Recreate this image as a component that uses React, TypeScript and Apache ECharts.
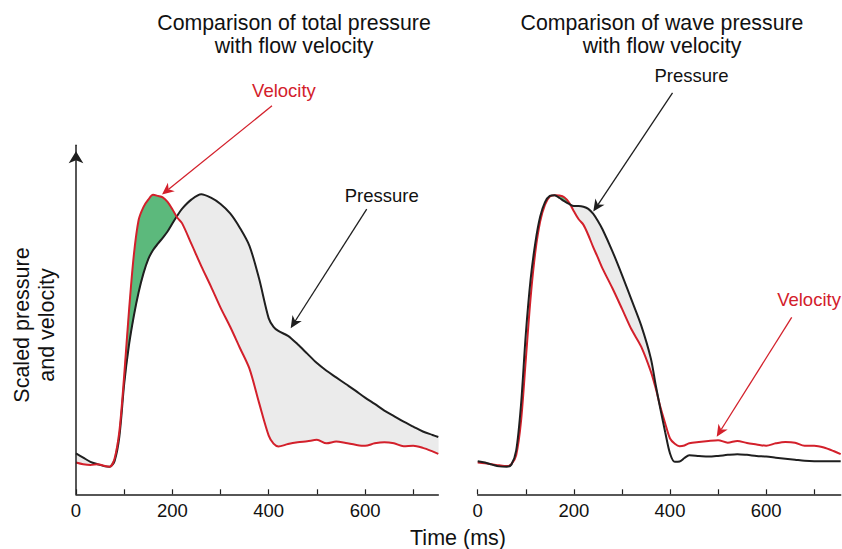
import React, { useEffect, useRef } from "react";
import * as echarts from "echarts";

// ---------- data ----------
const TIMES_L = [0, 15, 30, 45, 60, 70, 80, 90, 100, 110, 120, 130, 140, 150, 160, 170, 180, 190, 200, 210, 220, 240, 260, 280, 300, 320, 340, 360, 380, 400, 410, 420, 440, 460, 480, 500, 520, 540, 560, 580, 600, 620, 640, 660, 680, 700, 720, 740, 752];
const PRESSURE_L = [11.7, 10.5, 9.3, 8.6, 8.0, 7.9, 9.5, 16.5, 31.6, 42.8, 51.1, 57.9, 63.3, 67.4, 70.0, 71.8, 73.5, 75.3, 77.6, 79.8, 81.8, 84.5, 86.0, 85.0, 83.2, 80.5, 76.4, 71.2, 61.8, 50.4, 48.0, 46.8, 45.4, 43.0, 40.3, 37.6, 35.4, 33.5, 31.6, 29.7, 27.7, 25.9, 24.0, 22.4, 20.8, 19.4, 18.0, 17.0, 16.4];
const VELOCITY_L = [9.1, 8.6, 8.4, 8.6, 8.1, 7.9, 10.2, 18.0, 34.0, 52.6, 68.5, 78.6, 82.3, 84.4, 85.8, 85.5, 85.1, 83.8, 81.7, 79.3, 77.7, 71.6, 65.4, 59.6, 53.5, 48.0, 42.0, 36.0, 26.2, 16.8, 14.5, 13.7, 14.4, 14.9, 15.2, 15.6, 14.6, 15.1, 14.7, 14.2, 13.9, 14.6, 14.9, 14.6, 13.8, 13.9, 13.3, 12.3, 11.6];

const TIMES_R = [0, 15, 30, 45, 60, 70, 80, 90, 100, 110, 120, 130, 140, 150, 160, 170, 180, 190, 200, 210, 220, 230, 240, 250, 260, 280, 300, 320, 340, 360, 370, 380, 390, 400, 410, 420, 430, 440, 460, 480, 500, 520, 540, 560, 580, 600, 620, 640, 660, 680, 700, 720, 740, 755];
const PRESSURE_R = [9.5, 9.1, 8.5, 8.0, 7.9, 8.5, 12.5, 25.5, 45.8, 61.5, 72.2, 79.6, 83.7, 85.5, 85.7, 84.9, 84.0, 83.2, 82.6, 82.6, 82.4, 81.8, 80.4, 78.3, 75.8, 69.7, 62.9, 55.7, 48.4, 39.0, 31.5, 24.4, 17.8, 11.7, 9.3, 9.4, 10.4, 11.2, 11.0, 10.8, 11.0, 11.3, 11.5, 11.3, 11.0, 10.8, 10.5, 10.2, 9.9, 9.6, 9.5, 9.5, 9.5, 9.5];
const VELOCITY_R = [9.1, 8.9, 8.6, 8.3, 8.1, 8.6, 11.2, 20.8, 38.5, 56.3, 69.6, 78.2, 83.0, 85.3, 85.7, 85.6, 85.1, 83.6, 81.1, 78.8, 77.2, 74.3, 70.9, 67.8, 64.6, 59.1, 53.2, 47.2, 42.3, 35.2, 30.5, 25.0, 20.3, 16.0, 14.5, 13.8, 14.0, 14.6, 15.0, 15.3, 15.5, 14.8, 15.3, 14.7, 14.3, 13.9, 14.6, 15.0, 14.8, 13.9, 13.9, 13.4, 12.4, 11.5];

const X_MAX_L = 752;
const X_MAX_R = 755;
const TICK_VALUES = [0, 100, 200, 300, 400, 500, 600, 700];
const TICK_LABELS = [0, 200, 400, 600];
const FILL_RANGE_L = [0, 752];
const FILL_RANGE_R = [150, 380];

const TITLE_L = "Comparison of total pressure\nwith flow velocity";
const TITLE_R = "Comparison of wave pressure\nwith flow velocity";
const Y_NAME = "Scaled pressure\nand velocity";
const X_NAME = "Time (ms)";

// annotation anchors in data coordinates of each panel
const ANNOTATIONS = [
  { grid: 0, text: "Velocity", red: true, label: [431.7, 115.8], from: [406.8, 111.3], to: [178.5, 85.9] },
  { grid: 0, text: "Pressure", red: false, label: [634.5, 85.5], from: [603.4, 81.7], to: [445.6, 47.6] },
  { grid: 1, text: "Pressure", red: false, label: [444.7, 120.1], from: [405.2, 115.0], to: [240.4, 81.0] },
  { grid: 1, text: "Velocity", red: true, label: [689.1, 55.7], from: [653.1, 50.7], to: [497.1, 16.5] },
];

// ---------- styles ----------
const FONT = "'Liberation Sans', Arial, Helvetica, sans-serif";
const RED = "#d3202b";
const BLACK = "#1f1f1f";
const TEXT = "#111111";
const GREEN = "#5cb97c";
const GREY = "#ebebeb";
const SMOOTH = 0.3;

function zip(t: number[], v: number[]) {
  return t.map((x, i) => [x, v[i]]);
}

// regions between the two curves (inside the shaded range), split where they cross
function regions(times: number[], p: number[], v: number[], range: number[]) {
  const out: { color: string; pts: number[][] }[] = [];
  let cur: any = null;
  let prev = -1;
  times.forEach((t, i) => {
    if (t < range[0] || t > range[1]) return;
    const d = p[i] - v[i];
    if (!cur) {
      cur = { sign: d >= 0 ? 1 : -1, P: [[t, p[i]]], V: [[t, v[i]]] };
    } else {
      const sign = d === 0 ? cur.sign : d > 0 ? 1 : -1;
      if (sign !== cur.sign) {
        const t0 = times[prev];
        const d0 = p[prev] - v[prev];
        const f = d0 / (d0 - d);
        const tx = t0 + f * (t - t0);
        const yx = p[prev] + f * (p[i] - p[prev]);
        cur.P.push([tx, yx]);
        cur.V.push([tx, yx]);
        out.push({ color: cur.sign > 0 ? GREY : GREEN, pts: cur.P.concat(cur.V.slice().reverse()) });
        cur = { sign, P: [[tx, yx], [t, p[i]]], V: [[tx, yx], [t, v[i]]] };
      } else {
        cur.P.push([t, p[i]]);
        cur.V.push([t, v[i]]);
      }
    }
    prev = i;
  });
  if (cur) out.push({ color: cur.sign > 0 ? GREY : GREEN, pts: cur.P.concat(cur.V.slice().reverse()) });
  return out;
}

export default function App() {
  const ref = useRef<HTMLDivElement>(null);

  useEffect(() => {
    const chart = echarts.init(ref.current!, null, { renderer: "svg" });
    const rL = regions(TIMES_L, PRESSURE_L, VELOCITY_L, FILL_RANGE_L);
    const rR = regions(TIMES_R, PRESSURE_R, VELOCITY_R, FILL_RANGE_R);

    const xAxis = (idx: number, max: number) => ({
      type: "value",
      gridIndex: idx,
      min: 0,
      max,
      z: 10,
      axisLine: { show: true, onZero: false, lineStyle: { color: BLACK, width: 1.5 } },
      axisTick: { show: true, inside: true, length: 5, customValues: TICK_VALUES, lineStyle: { color: BLACK, width: 1.2 } },
      axisLabel: { customValues: TICK_LABELS, margin: 7, color: TEXT, fontSize: 18.5, fontFamily: FONT },
      splitLine: { show: false },
    });

    const fillSeries = (idx: number, regs: { color: string; pts: number[][] }[]) => ({
      type: "custom",
      xAxisIndex: idx,
      yAxisIndex: idx,
      silent: true,
      z: 1,
      data: [[0, 0]],
      renderItem: (_params: any, api: any) => ({
        type: "group",
        children: regs.map((r) => ({
          type: "polygon",
          shape: { points: r.pts.map((pt) => api.coord(pt)) },
          style: { fill: r.color, stroke: r.color, lineWidth: 0.5 },
        })),
      }),
    });

    const curve = (idx: number, t: number[], v: number[], color: string, z: number) => ({
      type: "line", xAxisIndex: idx, yAxisIndex: idx, data: zip(t, v), symbol: "none", smooth: SMOOTH, silent: true,
      lineStyle: { color, width: 2 }, z,
    });

    chart.setOption({
      animation: false,
      backgroundColor: "#ffffff",
      grid: [
        { left: 76, top: 145.3, width: 362.3, height: 349 },
        { left: 477.7, top: 145.3, width: 363, height: 349 },
      ],
      xAxis: [xAxis(0, X_MAX_L), xAxis(1, X_MAX_R)],
      yAxis: [
        {
          type: "value", gridIndex: 0, min: 0, max: 100, z: 10,
          axisLine: { show: true, onZero: false, symbol: ["none", "arrow"], symbolSize: [11, 12], symbolOffset: [0, -6], lineStyle: { color: BLACK, width: 1.5 } },
          axisTick: { show: false }, axisLabel: { show: false }, splitLine: { show: false },
        },
        { type: "value", gridIndex: 1, min: 0, max: 100, show: false, splitLine: { show: false } },
      ],
      series: [
        fillSeries(0, rL),
        curve(0, TIMES_L, PRESSURE_L, BLACK, 3),
        curve(0, TIMES_L, VELOCITY_L, RED, 4),
        fillSeries(1, rR),
        curve(1, TIMES_R, VELOCITY_R, RED, 3),
        curve(1, TIMES_R, PRESSURE_R, BLACK, 4),
      ],
    });

    const toPx = (g: number, pt: number[]) => chart.convertToPixel({ xAxisIndex: g, yAxisIndex: g } as any, pt) as unknown as number[];

    const graphics: any[] = [
      { type: "text", x: 294, y: 34.5, style: { text: TITLE_L, align: "center", verticalAlign: "middle", fontSize: 21.3, lineHeight: 23.5, fontFamily: FONT, fill: TEXT } },
      { type: "text", x: 662, y: 34.5, style: { text: TITLE_R, align: "center", verticalAlign: "middle", fontSize: 21.3, lineHeight: 23.5, fontFamily: FONT, fill: TEXT } },
      { type: "text", x: 34, y: 325, rotation: Math.PI / 2, style: { text: Y_NAME, align: "center", verticalAlign: "middle", fontSize: 21.5, lineHeight: 25, fontFamily: FONT, fill: TEXT } },
      { type: "text", x: 458, y: 538, style: { text: X_NAME, align: "center", verticalAlign: "middle", fontSize: 21.5, fontFamily: FONT, fill: TEXT } },
    ];

    ANNOTATIONS.forEach((a) => {
      const color = a.red ? RED : BLACK;
      const lp = toPx(a.grid, a.label);
      const s = toPx(a.grid, a.from);
      const e = toPx(a.grid, a.to);
      const dx = e[0] - s[0];
      const dy = e[1] - s[1];
      const len = Math.sqrt(dx * dx + dy * dy);
      const ux = dx / len;
      const uy = dy / len;
      const nx = -uy;
      const ny = ux;
      const L = 12, W = 5.5, notch = 3.5;
      const back = [e[0] - ux * L, e[1] - uy * L];
      const mid = [e[0] - ux * (L - notch), e[1] - uy * (L - notch)];
      graphics.push({ type: "text", x: lp[0], y: lp[1], z: 10, style: { text: a.text, align: "center", verticalAlign: "middle", fontSize: 18.5, fontFamily: FONT, fill: a.red ? RED : TEXT } });
      graphics.push({ type: "line", z: 10, shape: { x1: s[0], y1: s[1], x2: mid[0], y2: mid[1] }, style: { stroke: color, lineWidth: 1.3 } });
      graphics.push({
        type: "polygon", z: 10,
        shape: { points: [e, [back[0] + nx * W, back[1] + ny * W], mid, [back[0] - nx * W, back[1] - ny * W]] },
        style: { fill: color },
      });
    });

    chart.setOption({ graphic: graphics });

    return () => chart.dispose();
  }, []);

  return <div ref={ref} style={{ position: "fixed", left: 0, top: 0, width: 842, height: 549, background: "#fff" }} />;
}
